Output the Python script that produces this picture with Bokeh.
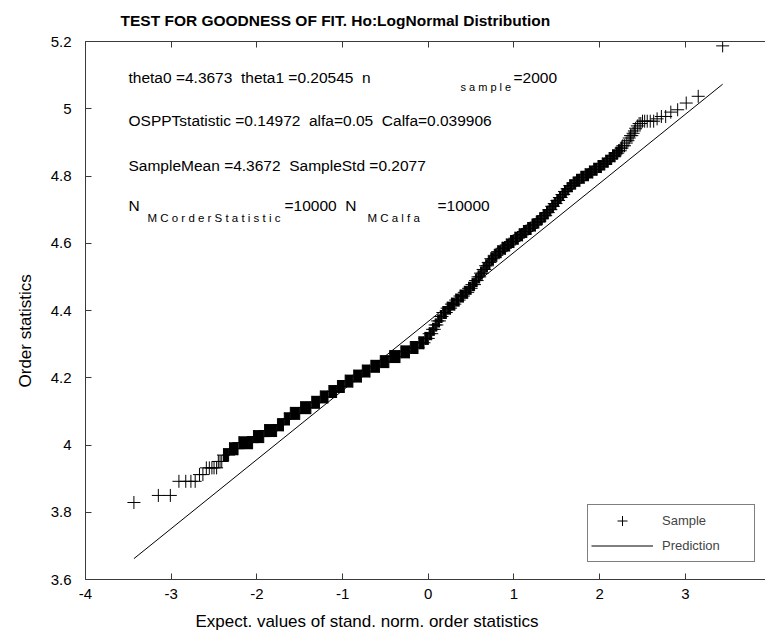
from bokeh.plotting import figure
from bokeh.models import (Range1d, LinearAxis, FixedTicker, CustomJSTickFormatter,
                          Label, Legend, LegendItem, Title)
from bokeh.embed import file_html
from bokeh.resources import INLINE

# ---------------- data ----------------
title_text = "TEST FOR GOODNESS OF FIT. Ho:LogNormal Distribution"
x_label = "Expect. values of stand. norm. order statistics"
y_label = "Order statistics"

x_ticks = [-4, -3, -2, -1, 0, 1, 2, 3, 4]
y_ticks = [3.6, 3.8, 4.0, 4.2, 4.4, 4.6, 4.8, 5.0, 5.2]

# individually visible sample points (tails)
pts_x = [-3.435, -3.150, -3.010, -2.910, -2.830, -2.770, -2.720, -2.670, -2.630,
         -2.590, -2.555, -2.525, -2.500, -2.470, -2.450, -2.430, -2.410,
         2.270, 2.290, 2.310, 2.330, 2.345, 2.360, 2.375, 2.390, 2.405, 2.420,
         2.440, 2.460, 2.480, 2.500, 2.525, 2.555, 2.590, 2.630, 2.670, 2.720,
         2.770, 2.830, 2.910, 3.010, 3.150, 3.435]
pts_y = [3.829, 3.850, 3.850, 3.892, 3.892, 3.892, 3.892, 3.912, 3.912,
         3.932, 3.932, 3.932, 3.932, 3.932, 3.951, 3.951, 3.951,
         4.890, 4.890, 4.898, 4.905, 4.913, 4.920, 4.920, 4.927, 4.934, 4.942,
         4.949, 4.956, 4.956, 4.963, 4.963, 4.963, 4.963, 4.963, 4.970, 4.977,
         4.977, 4.990, 4.997, 5.017, 5.037, 5.187]

# dense part: runs of tied order statistics (level, first x, last x)
run_y = [3.970, 3.989, 4.007, 4.025, 4.043, 4.060, 4.078, 4.094, 4.111, 4.127,
         4.143, 4.159, 4.174, 4.190, 4.205, 4.220, 4.234, 4.248, 4.263, 4.277,
         4.290, 4.304, 4.317, 4.331, 4.344, 4.357, 4.369, 4.382, 4.394, 4.407,
         4.419, 4.431, 4.443, 4.454, 4.466, 4.477, 4.489, 4.500, 4.511, 4.522,
         4.533, 4.543, 4.554, 4.564, 4.575, 4.585, 4.595, 4.605, 4.615, 4.625,
         4.635, 4.644, 4.654, 4.663, 4.673, 4.682, 4.691, 4.700, 4.710, 4.718,
         4.727, 4.736, 4.745, 4.754, 4.762, 4.771, 4.779, 4.787, 4.796, 4.804,
         4.812, 4.820, 4.828, 4.836, 4.844, 4.852, 4.860, 4.868, 4.875, 4.883]
run_x0 = [-2.390, -2.320, -2.210, -2.040, -1.910, -1.760, -1.680, -1.610, -1.490, -1.360,
          -1.260, -1.160, -1.060, -0.970, -0.870, -0.770, -0.670, -0.560, -0.450, -0.320,
          -0.210, -0.110, -0.040, 0.010, 0.050, 0.080, 0.110, 0.140, 0.170, 0.220,
          0.270, 0.320, 0.370, 0.420, 0.470, 0.510, 0.550, 0.580, 0.610, 0.640,
          0.670, 0.700, 0.730, 0.770, 0.810, 0.860, 0.910, 0.960, 1.010, 1.060,
          1.110, 1.160, 1.210, 1.260, 1.300, 1.340, 1.380, 1.410, 1.440, 1.470,
          1.500, 1.530, 1.560, 1.590, 1.620, 1.650, 1.690, 1.730, 1.780, 1.830,
          1.880, 1.930, 1.980, 2.030, 2.070, 2.110, 2.150, 2.190, 2.220, 2.250]
run_x1 = [-2.330, -2.220, -2.050, -1.920, -1.770, -1.690, -1.620, -1.500, -1.370, -1.270,
          -1.170, -1.070, -0.980, -0.880, -0.780, -0.680, -0.570, -0.460, -0.330, -0.220,
          -0.120, -0.050, 0.000, 0.040, 0.070, 0.100, 0.130, 0.160, 0.210, 0.260,
          0.310, 0.360, 0.410, 0.460, 0.500, 0.540, 0.570, 0.600, 0.630, 0.660,
          0.690, 0.720, 0.760, 0.800, 0.850, 0.900, 0.950, 1.000, 1.050, 1.100,
          1.150, 1.200, 1.250, 1.290, 1.330, 1.370, 1.400, 1.430, 1.460, 1.490,
          1.520, 1.550, 1.580, 1.610, 1.640, 1.680, 1.720, 1.770, 1.820, 1.870,
          1.920, 1.970, 2.020, 2.060, 2.100, 2.140, 2.180, 2.210, 2.240, 2.260]

# prediction line  (theta0 + theta1 * x at the extreme expected order statistics)
pred_x = [-3.435, 3.435]
pred_y = [3.662, 5.073]

# ---------------- figure ----------------
FONT = "Liberation Sans"
AX = "#3a3a3a"
FL, FB = 85, 579   # frame left / bottom in page pixels (for screen-unit labels)

p = figure(width=765, height=641, output_backend="svg", toolbar_location=None,
           x_range=Range1d(-4, 3.935), y_range=Range1d(3.6, 5.2),
           min_border_left=FL, min_border_right=0, min_border_top=41,
           min_border_bottom=641 - FB, background_fill_color="white",
           border_fill_color="white")
p.grid.visible = False
p.outline_line_color = None

p.title.text = title_text
p.title.text_font = FONT
p.title.text_font_size = "15.5px"
p.title.text_font_style = "bold"
p.title.align = "left"
p.title.vertical_align = "top"
p.title.offset = 35
p.title.standoff = 21
p.title.text_color = "black"

fmt = CustomJSTickFormatter(code="return String(tick);")

def style_axis(ax, ticks):
    ax.ticker = FixedTicker(ticks=ticks)
    ax.formatter = fmt
    ax.major_tick_in = 6
    ax.major_tick_out = 0
    ax.minor_tick_line_color = None
    ax.axis_line_color = AX
    ax.major_tick_line_color = AX
    ax.major_label_text_font = FONT
    ax.major_label_text_font_size = "15px"
    ax.major_label_text_color = "black"

style_axis(p.xaxis[0], x_ticks)
style_axis(p.yaxis[0], y_ticks)
p.xaxis[0].major_label_standoff = 9
p.yaxis[0].major_label_standoff = 14

top = LinearAxis()
style_axis(top, x_ticks)
top.major_label_text_color = None
top.major_label_text_font_size = "1px"
top.major_label_standoff = 0
p.add_layout(top, "above")

# axis labels, placed off-centre where the picture has them
p.add_layout(Title(text=x_label, align="left", offset=110, standoff=16,
                   text_font=FONT, text_font_size="17px", text_font_style="normal",
                   text_color="black"), "below")
p.add_layout(Title(text=y_label, align="left", offset=192, standoff=26,
                   text_font=FONT, text_font_size="17px", text_font_style="normal",
                   text_color="black"), "left")

# sample: dense runs drawn as the union of their '+' markers
p.segment(x0=run_x0, y0=run_y, x1=run_x1, y1=run_y, line_color="black",
          line_width=13, line_cap="butt")
all_x = pts_x + run_x0 + run_x1
all_y = pts_y + run_y + run_y
sc = p.scatter(all_x, all_y, marker="cross", size=13, line_color="black",
               line_width=1)
ln = p.line(pred_x, pred_y, line_color="black", line_width=1)

legend = Legend(items=[LegendItem(label="Sample", renderers=[sc]),
                       LegendItem(label="Prediction", renderers=[ln])],
                location=(502, 17), border_line_color="black", border_line_width=1,
                background_fill_color="white", background_fill_alpha=1.0,
                padding=3, spacing=0, margin=0, glyph_width=62, glyph_height=25,
                label_height=25, label_width=89, label_standoff=9,
                label_text_font=FONT, label_text_font_size="13px")
p.add_layout(legend)

def txt(px, py, s, size="15.5px"):
    p.add_layout(Label(x=px - FL, y=FB - py, x_units="screen", y_units="screen",
                       text=s, text_font=FONT, text_font_size=size,
                       text_color="black", text_baseline="alphabetic",
                       text_align="left"))

S2 = " \u00a0"  # two spaces as in the picture
txt(128, 77, "theta0 =4.3673" + S2 + "theta1 =0.20545" + S2 + "n")
txt(460, 86, "s a m p l e", "11px")
txt(513, 77, "=2000")
txt(128, 120, "OSPPTstatistic =0.14972" + S2 + "alfa=0.05" + S2 + "Calfa=0.039906")
txt(128, 165, "SampleMean =4.3672" + S2 + "SampleStd =0.2077")
txt(128, 204.5, "N")
txt(147, 217, "M C o r d e r S t a t i s t i c", "11.5px")
txt(284, 204.5, "=10000" + S2 + "N")
txt(367, 217, "M C a l f a", "11.5px")
txt(437, 204.5, "=10000")

open("out.html", "w").write(file_html(p, INLINE))
